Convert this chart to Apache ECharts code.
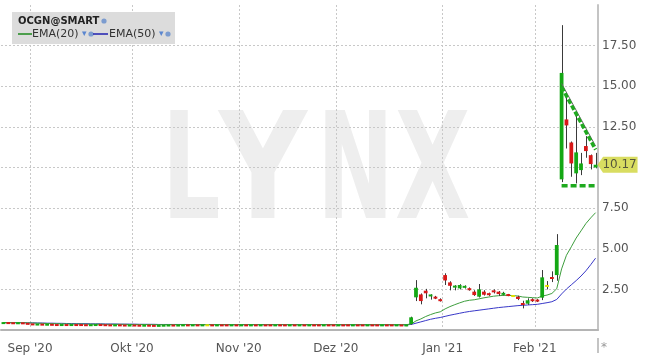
<!DOCTYPE html>
<html><head><meta charset="utf-8">
<script src="https://cdn.jsdelivr.net/npm/echarts@6/dist/echarts.min.js"></script>
<style>html,body{margin:0;padding:0;background:#fff}#c{width:645px;height:358px}</style>
</head><body><div id="c"></div>
<script>
const dates = [
'2020-08-24','2020-08-25','2020-08-26','2020-08-27','2020-08-28','2020-08-31',
'2020-09-01','2020-09-02','2020-09-03','2020-09-04','2020-09-08','2020-09-09','2020-09-10','2020-09-11','2020-09-14','2020-09-15','2020-09-16','2020-09-17','2020-09-18','2020-09-21','2020-09-22','2020-09-23','2020-09-24','2020-09-25','2020-09-28','2020-09-29','2020-09-30',
'2020-10-01','2020-10-02','2020-10-05','2020-10-06','2020-10-07','2020-10-08','2020-10-09','2020-10-12','2020-10-13','2020-10-14','2020-10-15','2020-10-16','2020-10-19','2020-10-20','2020-10-21','2020-10-22','2020-10-23','2020-10-26','2020-10-27','2020-10-28','2020-10-29','2020-10-30',
'2020-11-02','2020-11-03','2020-11-04','2020-11-05','2020-11-06','2020-11-09','2020-11-10','2020-11-11','2020-11-12','2020-11-13','2020-11-16','2020-11-17','2020-11-18','2020-11-19','2020-11-20','2020-11-23','2020-11-24','2020-11-25','2020-11-27','2020-11-30',
'2020-12-01','2020-12-02','2020-12-03','2020-12-04','2020-12-07','2020-12-08','2020-12-09','2020-12-10','2020-12-11','2020-12-14','2020-12-15','2020-12-16','2020-12-17','2020-12-18','2020-12-21','2020-12-22','2020-12-23','2020-12-24','2020-12-28','2020-12-29','2020-12-30','2020-12-31',
'2021-01-04','2021-01-05','2021-01-06','2021-01-07','2021-01-08','2021-01-11','2021-01-12','2021-01-13','2021-01-14','2021-01-15','2021-01-19','2021-01-20','2021-01-21','2021-01-22','2021-01-25','2021-01-26','2021-01-27','2021-01-28','2021-01-29',
'2021-02-01','2021-02-02','2021-02-03','2021-02-04','2021-02-05','2021-02-08','2021-02-09','2021-02-10','2021-02-11','2021-02-12','2021-02-16','2021-02-17','2021-02-18'
];
const opens = [
0.42,0.43,0.42,0.41,0.42,0.40,
0.36,0.33,0.34,0.32,0.33,0.31,0.30,0.31,0.30,0.31,0.31,0.30,0.29,0.30,0.31,0.30,0.29,0.28,0.29,0.28,0.27,
0.28,0.27,0.26,0.27,0.26,0.25,0.26,0.27,0.28,0.27,0.28,0.29,0.28,0.29,0.28,0.29,0.29,0.28,0.29,0.29,0.28,0.29,
0.28,0.29,0.28,0.29,0.28,0.29,0.29,0.28,0.29,0.29,0.28,0.29,0.28,0.29,0.28,0.29,0.29,0.28,0.29,0.29,
0.28,0.29,0.29,0.28,0.29,0.29,0.28,0.29,0.29,0.28,0.29,0.29,0.28,0.29,0.25,0.37,2.01,2.19,2.42,2.11,2.03,1.89,
3.38,2.93,2.64,2.56,2.62,2.56,2.36,2.05,2.36,2.26,2.44,2.36,2.20,2.19,2.09,2.05,1.64,1.62,1.89,
1.84,1.99,2.71,3.24,3.38,9.27,12.96,11.54,9.64,9.84,11.32,10.76,10.00
];
const closes = [
0.43,0.42,0.41,0.42,0.40,0.36,
0.33,0.34,0.32,0.33,0.31,0.30,0.31,0.30,0.31,0.30,0.30,0.29,0.30,0.31,0.30,0.29,0.28,0.29,0.28,0.27,0.28,
0.27,0.26,0.27,0.26,0.25,0.26,0.27,0.28,0.27,0.28,0.29,0.28,0.29,0.28,0.29,0.29,0.28,0.29,0.28,0.28,0.29,0.28,
0.29,0.28,0.29,0.28,0.29,0.28,0.28,0.29,0.28,0.28,0.29,0.28,0.29,0.28,0.29,0.28,0.28,0.29,0.28,0.28,
0.29,0.28,0.28,0.29,0.28,0.28,0.29,0.28,0.28,0.29,0.28,0.28,0.29,0.27,0.31,0.78,2.60,1.78,2.26,2.14,1.95,1.78,
3.05,2.72,2.70,2.77,2.69,2.46,2.15,2.50,2.17,2.15,2.32,2.21,2.25,2.11,2.09,1.91,1.56,1.83,1.78,
1.78,3.24,2.71,3.16,5.23,15.82,12.59,10.25,10.93,10.25,11.01,10.21,10.17
];
const lows = [
0.41,0.41,0.40,0.40,0.39,0.35,
0.32,0.32,0.31,0.31,0.30,0.29,0.29,0.29,0.29,0.29,0.29,0.28,0.28,0.29,0.29,0.28,0.27,0.27,0.27,0.26,0.26,
0.26,0.25,0.25,0.25,0.24,0.24,0.25,0.26,0.26,0.26,0.27,0.27,0.27,0.27,0.27,0.28,0.27,0.27,0.27,0.27,0.27,0.27,
0.27,0.27,0.27,0.27,0.27,0.27,0.27,0.27,0.27,0.27,0.27,0.27,0.27,0.27,0.27,0.27,0.27,0.27,0.27,0.27,
0.27,0.27,0.27,0.27,0.27,0.27,0.27,0.27,0.27,0.27,0.27,0.27,0.27,0.26,0.24,0.33,1.78,1.58,1.95,1.87,1.90,1.75,
2.77,2.44,2.44,2.50,2.55,2.42,2.10,2.00,2.12,2.10,2.25,2.10,2.12,2.08,2.03,1.84,1.33,1.55,1.73,
1.72,1.84,2.50,2.95,3.03,9.10,11.17,9.43,9.02,9.53,10.60,9.88,9.95
];
const highs = [
0.44,0.44,0.43,0.43,0.43,0.41,
0.37,0.35,0.35,0.34,0.34,0.32,0.32,0.32,0.32,0.32,0.32,0.31,0.31,0.32,0.32,0.31,0.30,0.30,0.30,0.29,0.29,
0.29,0.28,0.28,0.28,0.27,0.27,0.28,0.29,0.29,0.29,0.30,0.30,0.30,0.30,0.30,0.30,0.30,0.30,0.30,0.30,0.30,0.30,
0.30,0.30,0.30,0.30,0.30,0.30,0.30,0.30,0.30,0.30,0.30,0.30,0.30,0.30,0.30,0.30,0.30,0.30,0.30,0.30,
0.30,0.30,0.30,0.30,0.30,0.30,0.30,0.30,0.30,0.30,0.30,0.30,0.30,0.30,0.32,0.82,3.07,2.25,2.53,2.20,2.10,1.95,
3.49,3.00,2.76,2.82,2.75,2.62,2.45,2.83,2.45,2.30,2.50,2.40,2.35,2.22,2.14,2.11,1.80,1.95,1.95,
1.90,3.69,3.01,3.61,5.90,18.76,14.45,11.60,13.22,10.90,11.93,10.80,10.90
];
const ema20 = [
0.46,0.46,0.45,0.45,0.45,0.44,
0.43,0.42,0.41,0.40,0.39,0.39,0.38,0.38,0.37,0.37,0.37,0.36,0.36,0.36,0.36,0.35,0.35,0.35,0.35,0.35,0.34,
0.34,0.34,0.34,0.33,0.33,0.33,0.33,0.33,0.33,0.33,0.33,0.33,0.33,0.33,0.33,0.33,0.33,0.33,0.33,0.33,0.33,0.33,
0.33,0.33,0.33,0.33,0.33,0.33,0.33,0.33,0.33,0.33,0.33,0.33,0.33,0.33,0.33,0.33,0.33,0.33,0.33,0.33,
0.33,0.33,0.33,0.33,0.33,0.33,0.33,0.33,0.33,0.33,0.33,0.33,0.33,0.33,0.33,0.37,0.56,0.68,0.83,0.95,1.05,1.12,
1.30,1.44,1.56,1.67,1.77,1.83,1.86,1.92,1.98,2.03,2.08,2.11,2.13,2.13,2.12,2.09,2.03,2.01,1.99,
1.97,2.09,2.15,2.25,2.54,3.76,4.60,5.12,5.66,6.10,6.55,6.90,7.22
];
const ema50 = [
0.45,0.45,0.45,0.45,0.45,0.44,
0.44,0.43,0.43,0.42,0.42,0.41,0.41,0.40,0.40,0.39,0.39,0.39,0.38,0.38,0.38,0.37,0.37,0.37,0.36,0.36,0.36,
0.36,0.35,0.35,0.35,0.35,0.34,0.34,0.34,0.34,0.34,0.34,0.34,0.33,0.33,0.33,0.33,0.33,0.33,0.33,0.33,0.33,0.33,
0.33,0.33,0.33,0.33,0.33,0.33,0.33,0.33,0.33,0.33,0.33,0.33,0.33,0.33,0.33,0.33,0.33,0.33,0.33,0.33,
0.32,0.32,0.32,0.32,0.32,0.32,0.32,0.32,0.32,0.32,0.32,0.32,0.32,0.32,0.32,0.34,0.42,0.50,0.58,0.66,0.72,0.77,
0.84,0.91,0.97,1.03,1.09,1.14,1.18,1.22,1.26,1.30,1.34,1.38,1.41,1.44,1.47,1.50,1.52,1.54,1.56,
1.58,1.63,1.68,1.74,1.88,2.22,2.52,2.78,3.04,3.32,3.64,4.02,4.42
];
const monthStarts = ['2020-09-01','2020-10-01','2020-11-02','2020-12-01','2021-01-04','2021-02-01'];
const monthLabels = ["Sep '20","Okt '20","Nov '20","Dez '20","Jan '21","Feb '21"];
const yTicksHidden = [0, 10, 20];
// drawn trend annotations (start/end category index and price)
const trendIdx = [115, 122];
const trendUpper = [14.95, 11.1];
const trendLower = [8.87, 8.87];

const GREEN = '#14a814', RED = '#d81818', DOJI = '#e4e000';
const FONT = 'DejaVu Sans';
const WM = '#eeeeee';

const candles = dates.map((d, i) => [i, opens[i], closes[i], lows[i], highs[i]]);
const last = dates.length - 1;

const chart = echarts.init(document.getElementById('c'), null, {renderer: 'canvas'});
chart.setOption({
  animation: false,
  backgroundColor: '#fff',
  grid: {left: 1, right: 47, top: 5, bottom: 28},
  xAxis: {
    type: 'category', data: dates, boundaryGap: true, offset: 8,
    axisLine: {lineStyle: {color: '#b4b4b4', width: 2}},
    axisTick: {show: false},
    axisLabel: {
      interval: (idx, val) => monthStarts.includes(val),
      formatter: (val) => { const k = monthStarts.indexOf(val); return k >= 0 ? monthLabels[k] : ''; },
      color: '#555', fontSize: 12, fontFamily: FONT, margin: 5, padding: [0, 5, 0, 0]
    },
    splitLine: {show: true, interval: (idx, val) => monthStarts.includes(val),
      lineStyle: {color: '#c8c8c8', type: [2, 2], width: 1}}
  },
  yAxis: {
    type: 'value', position: 'right', min: 0, max: 20, interval: 2.5,
    axisLine: {show: true, lineStyle: {color: '#c4c4c4', width: 2}},
    axisTick: {show: false},
    axisLabel: {formatter: v => yTicksHidden.includes(v) ? '' : v.toFixed(2),
      color: '#555', fontSize: 12, fontFamily: FONT, margin: 4},
    splitLine: {show: true, showMaxLine: false, lineStyle: {color: '#c8c8c8', type: [2, 2], width: 1}}
  },
  graphic: [
    {type: 'text', z: -10, left: 162, top: 106, style: {text: 'L', font: 'bold 148px DejaVu Sans', fill: WM}, scaleX: 0.62},
    {type: 'text', z: -10, left: 219, top: 106, style: {text: 'Y', font: 'bold 148px DejaVu Sans', fill: WM}, scaleX: 0.82},
    {type: 'text', z: -10, left: 317, top: 106, style: {text: 'N', font: 'bold 148px DejaVu Sans', fill: WM}, scaleX: 0.62},
    {type: 'text', z: -10, left: 395, top: 106, style: {text: 'X', font: 'bold 148px DejaVu Sans', fill: WM}, scaleX: 0.66},
    {type: 'rect', z: 50, shape: {x: 12, y: 12, width: 163, height: 32}, style: {fill: '#dcdcdc'}},
    {type: 'text', z: 51, x: 18, y: 21, style: {text: 'OCGN@SMART', font: 'bold 10px DejaVu Sans', fill: '#222', verticalAlign: 'middle'}},
    {type: 'circle', z: 51, shape: {cx: 104, cy: 21, r: 2.6}, style: {fill: '#7c9ccf'}},
    {type: 'line', z: 51, shape: {x1: 18, y1: 34, x2: 32, y2: 34}, style: {stroke: '#1c8a1c', lineWidth: 1.5}},
    {type: 'text', z: 51, x: 32, y: 34, style: {text: 'EMA(20)', font: '11px DejaVu Sans', fill: '#333', verticalAlign: 'middle'}},
    {type: 'text', z: 51, x: 82, y: 34, style: {text: '▾', font: '9px DejaVu Sans', fill: '#5a86d0', verticalAlign: 'middle'}},
    {type: 'circle', z: 51, shape: {cx: 91, cy: 34, r: 2.6}, style: {fill: '#7c9ccf'}},
    {type: 'line', z: 51, shape: {x1: 93, y1: 34, x2: 108, y2: 34}, style: {stroke: '#2020b0', lineWidth: 1.5}},
    {type: 'text', z: 51, x: 109, y: 34, style: {text: 'EMA(50)', font: '11px DejaVu Sans', fill: '#333', verticalAlign: 'middle'}},
    {type: 'text', z: 51, x: 159, y: 34, style: {text: '▾', font: '9px DejaVu Sans', fill: '#5a86d0', verticalAlign: 'middle'}},
    {type: 'circle', z: 51, shape: {cx: 168, cy: 34, r: 2.6}, style: {fill: '#7c9ccf'}},
    {type: 'line', z: 5, shape: {x1: 598, y1: 338, x2: 598, y2: 353}, style: {stroke: '#c4c4c4', lineWidth: 2}},
    {type: 'text', z: 5, x: 601, y: 348, style: {text: '*', font: '12px DejaVu Sans', fill: '#999', verticalAlign: 'middle'}}
  ],
  series: [
    {
      type: 'line', name: 'EMA(50)', data: ema50, symbol: 'none', z: 3,
      lineStyle: {color: '#3838c8', width: 1}
    },
    {
      type: 'line', name: 'EMA(20)', data: ema20, symbol: 'none', z: 3,
      lineStyle: {color: '#3e9e3e', width: 1}
    },
    {
      type: 'custom', name: 'OCGN', data: candles, z: 4,
      encode: {x: 0, y: [1, 2, 3, 4]},
      renderItem: (params, api) => {
        const i = api.value(0), o = api.value(1), c = api.value(2), l = api.value(3), h = api.value(4);
        const pO = api.coord([i, o]), pC = api.coord([i, c]), pL = api.coord([i, l]), pH = api.coord([i, h]);
        const w = api.size([1, 0])[0] * 0.78;
        let top = Math.min(pO[1], pC[1]), bot = Math.max(pO[1], pC[1]);
        if (bot - top < 2) { const m = (top + bot) / 2; top = m - 1; bot = m + 1; }
        const col = c > o ? GREEN : (c < o ? RED : DOJI);
        const xw = Math.round(pO[0]) + 0.5;
        return {type: 'group', children: [
          {type: 'line', shape: {x1: xw, y1: pH[1], x2: xw, y2: pL[1]}, style: {stroke: '#3a3a3a', lineWidth: 1}},
          {type: 'rect', shape: {x: pO[0] - w / 2, y: top, width: w, height: bot - top}, style: {fill: col}}
        ]};
      }
    },
    {
      type: 'line', data: [[trendIdx[0], trendUpper[0] + 0.22], [trendIdx[1], trendUpper[1] + 0.22]],
      symbol: 'none', z: 5, lineStyle: {color: '#666', width: 1}
    },
    {
      type: 'line', data: [[trendIdx[0], trendUpper[0]], [trendIdx[1], trendUpper[1]]],
      symbol: 'none', z: 6, lineStyle: {color: '#1faa1f', width: 3.5, type: [5, 2]}
    },
    {
      type: 'line', data: [[trendIdx[0], trendLower[0]], [trendIdx[1], trendLower[1]]],
      symbol: 'none', z: 6, lineStyle: {color: '#1faa1f', width: 3.5, type: [6, 3]}
    },
    {
      type: 'scatter', data: [[last, closes[last]]], z: 10, clip: false,
      symbol: 'path://M0,8 L6,0 L44,0 L44,16 L6,16 Z', symbolSize: [40, 16], symbolOffset: [22, 0],
      itemStyle: {color: '#d0d43a'},
      label: {show: true, position: 'inside', offset: [2, 0], formatter: () => closes[last].toFixed(2),
        color: '#333', fontSize: 12, fontFamily: FONT}
    }
  ]
});
</script>
</body></html>
